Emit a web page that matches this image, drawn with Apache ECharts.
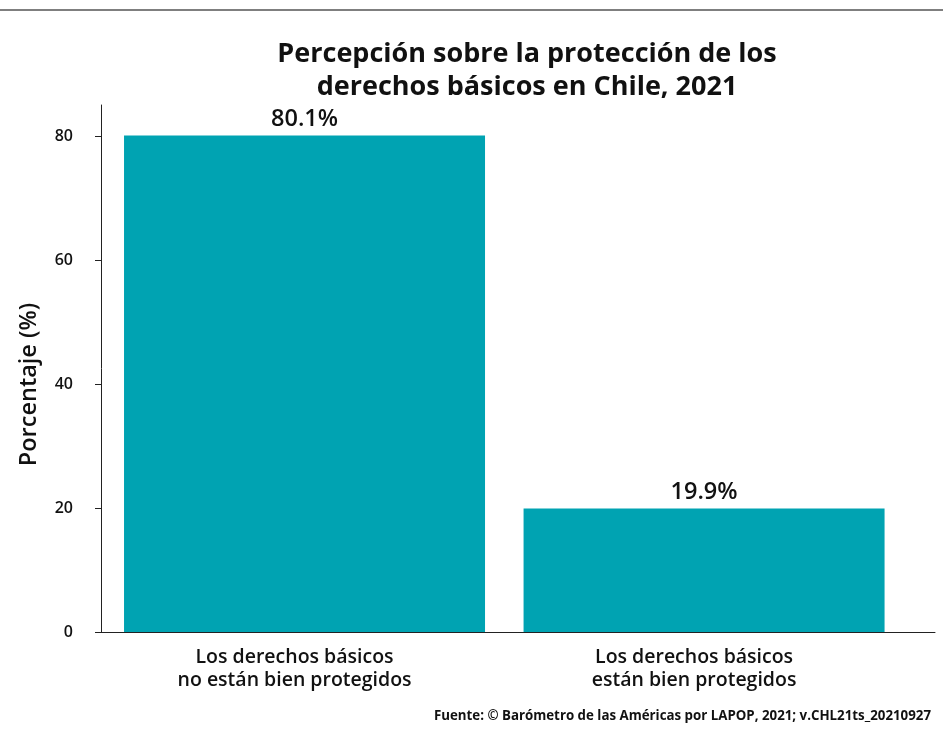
<!DOCTYPE html>
<html>
<head>
<meta charset="utf-8">
<script src="https://cdn.jsdelivr.net/npm/echarts@6/dist/echarts.min.js"></script>
<style>
html,body{margin:0;padding:0;background:#fff;}
#chart{width:943px;height:750px;}
</style>
</head>
<body>
<div id="chart"></div>
<script>
// Data
var categories = ['Los derechos básicos\nno están bien protegidos', 'Los derechos básicos\nestán bien protegidos'];
var categoryPositions = [1, 2];
var values = [80.1, 19.9];
var yTicks = [0, 20, 40, 60, 80];
var titleText = 'Percepción sobre la protección de los\nderechos básicos en Chile, 2021';
var sourceText = 'Fuente: © Barómetro de las Américas por LAPOP, 2021; v.CHL21ts_20210927';
var yName = 'Porcentaje (%)';

var font = '"Open Sans", "Noto Sans", sans-serif';
var chart = echarts.init(document.getElementById('chart'));
var seriesData = values.map(function (v, i) { return [categoryPositions[i], v]; });

chart.setOption({
  animation: false,
  backgroundColor: '#fff',
  title: {
    text: titleText,
    left: 522,
    textAlign: 'center',
    top: 33,
    textStyle: {
      fontFamily: font, fontWeight: 'bold', fontSize: 27, color: '#111', lineHeight: 33
    }
  },
  graphic: [
    { type: 'line', shape: { x1: 0, y1: 10, x2: 943, y2: 10 }, style: { stroke: '#555', lineWidth: 1.5 } },
    { type: 'text', right: 12, top: 710, style: { text: sourceText, font: 'bold 13.3px ' + font, fill: '#111' } }
  ],
  grid: { left: 101, right: 8, top: 105, bottom: 118, containLabel: false },
  xAxis: {
    type: 'value',
    min: 0.4906,
    max: 2.578,
    splitLine: { show: false },
    axisLine: { show: true, onZero: false, lineStyle: { color: '#222', width: 1 } },
    axisTick: { show: false },
    axisLabel: {
      customValues: categoryPositions,
      formatter: function (v) {
        var i = categoryPositions.indexOf(Math.round(v));
        return i >= 0 ? categories[i] : '';
      },
      fontFamily: font, fontWeight: 600, fontSize: 19.5, color: '#111', lineHeight: 23,
      margin: 14, padding: [0, 20, 0, 0]
    }
  },
  yAxis: {
    type: 'value',
    min: 0,
    max: 85,
    name: yName,
    nameLocation: 'middle',
    nameGap: 60,
    nameTextStyle: { fontFamily: font, fontWeight: 600, fontSize: 23.5, color: '#111', padding: [0, 32, 0, 0] },
    splitLine: { show: false },
    axisLine: { show: true, lineStyle: { color: '#222', width: 1 } },
    axisTick: { show: true, customValues: yTicks, length: 6, inside: false, lineStyle: { color: '#222' } },
    axisLabel: { customValues: yTicks, fontFamily: font, fontWeight: 600, fontSize: 16, color: '#111', margin: 28 }
  },
  series: [{
    type: 'bar',
    data: seriesData,
    barWidth: 361,
    itemStyle: { color: '#00a3b2' },
    label: {
      show: true, position: 'top', distance: 4,
      formatter: function (p) { return p.value[1].toFixed(1) + '%'; },
      fontFamily: font, fontWeight: 600, fontSize: 23.5, color: '#111'
    }
  }]
});
</script>
</body>
</html>
